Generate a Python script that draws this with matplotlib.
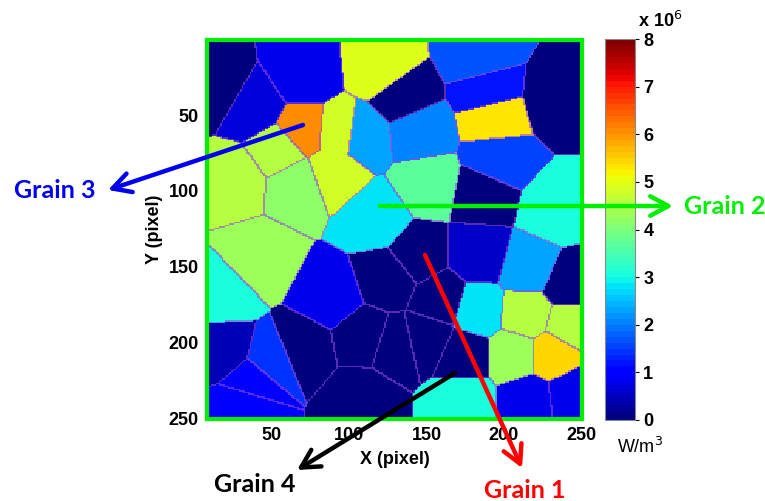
import numpy as np
import matplotlib
matplotlib.use("Agg")
import matplotlib.pyplot as plt
import matplotlib.patches as mpatches

plt.rcParams["font.family"] = ["Liberation Sans", "DejaVu Sans"]

# ---- grain data (seed location in pixels, heat value in 1e6 W/m^3) ----
# seeds that share one value exactly belong to the same grain
seed_x = [16, 70, 39, 70, 122, 135, 184, 190, 194, 235,
          197, 233, 145, 109, 151, 118, 94, 26, 55, 67,
          42, 18, 88, 70, 50, 20, 38, 33, 109, 125,
          145, 187, 184, 216.6, 242.7, 183, 215, 243, 207, 231.6,
          174, 216.6, 244, 160, 110, 130, 151, 174, 90]
seed_y = [32, 25, 45, 60, 20, 38, 12, 35, 51, 40,
          80, 113, 61, 64, 96, 118, 62, 93, 73, 96,
          146, 169, 170, 204, 212, 205, 226, 242, 237, 158,
          142.5, 103, 142.5, 151, 162, 179, 182, 189, 208.4, 208.4,
          238, 238, 235, 172, 197, 203, 198.5, 208.4, 88]
grain_val = [0.10, 0.85, 0.7, 6.1, 4.9, 0.09, 1.7, 1.2, 5.3, 0.08,
             1.6, 3.0, 2.0, 2.3, 3.7, 2.8, 4.75, 4.55, 4.6, 4.2,
             4.3, 3.0, 0.8, 0.07, 1.4, 0.4, 0.9, 0.95, 0.11, 0.06,
             0.05, 0.12, 0.6, 2.3, 0.10, 2.85, 4.55, 4.5, 4.25, 5.4,
             3.0, 0.85, 0.8, 0.09, 0.08, 0.115, 0.065, 0.055, 4.75]

x_ticks = [50, 100, 150, 200, 250]
y_ticks = [50, 100, 150, 200, 250]
cb_ticks = [0, 1, 2, 3, 4, 5, 6, 7, 8]

N = 250
xx, yy = np.meshgrid(np.arange(1, N + 1), np.arange(1, N + 1))
sx = np.array(seed_x, float)[:, None, None]
sy = np.array(seed_y, float)[:, None, None]
lab = np.argmin((xx - sx) ** 2 + (yy - sy) ** 2, axis=0)
field = np.array(grain_val)[lab]

edge = np.zeros(lab.shape, bool)
edge[:, :-1] |= field[:, :-1] != field[:, 1:]
edge[:-1, :] |= field[:-1, :] != field[1:, :]
overlay = np.zeros((N, N, 4))
overlay[edge] = (0.58, 0.28, 0.88, 0.6)

fig = plt.figure(figsize=(7.65, 5.01), dpi=100)
ax = fig.add_axes([207 / 765, 1 - 419 / 501, 375 / 765, 379 / 501])
cmap = plt.get_cmap("jet", 64)
ext = (0.5, 250.5, 250.5, 0.5)
im = ax.imshow(field, cmap=cmap, vmin=0, vmax=8, extent=ext,
               interpolation="nearest", aspect="auto")
ax.imshow(overlay, extent=ext, interpolation="nearest", aspect="auto")
ax.set_xlim(8, 250.5)
ax.set_ylim(250.5, 0.5)
ax.set_xticks(x_ticks)
ax.set_yticks(y_ticks)
for s in ax.spines.values():
    s.set_color("#00EE00")
    s.set_linewidth(3)
ax.tick_params(length=0, pad=6, labelsize=13)
for lbl in ax.get_xticklabels() + ax.get_yticklabels():
    lbl.set_fontweight("bold")
ax.set_xlabel("X (pixel)", fontsize=13, fontweight="bold", labelpad=5)
ax.set_ylabel("Y (pixel)", fontsize=13, fontweight="bold", labelpad=4)

cax = fig.add_axes([605 / 765, 1 - 420 / 501, 30 / 765, 381 / 501])
cb = fig.colorbar(im, cax=cax, ticks=cb_ticks)
cb.outline.set_edgecolor("#888888")
cb.outline.set_linewidth(0.8)
cax.tick_params(length=3, width=0.8, labelsize=13, pad=3)
for lbl in cax.get_yticklabels():
    lbl.set_fontweight("bold")
fig.text(638 / 765, 1 - 27 / 501, r"x 10$^{6}$", fontsize=13, fontweight="bold",
         ha="left", va="baseline")
fig.text(617 / 765, 1 - 447 / 501, r"W/m$^{3}$", fontsize=13,
         ha="left", va="center")

fam = ["Lato", "DejaVu Sans"]
arrows = [
    ("Grain 3", "#0000EE", (303, 125), (108, 190), (55, 190), "center"),
    ("Grain 2", "#00EE00", (380, 206), (673, 206), (684, 207), "left"),
    ("Grain 1", "#FF0000", (425, 255), (522, 468), (525, 490), "center"),
    ("Grain 4", "#000000", (455, 373), (297, 470), (255, 485), "center"),
]
for name, col, p0, p1, pt, ha in arrows:
    fig.patches.append(mpatches.FancyArrowPatch(
        (p0[0] / 765, 1 - p0[1] / 501), (p1[0] / 765, 1 - p1[1] / 501),
        transform=fig.transFigure, arrowstyle="->,head_length=13,head_width=7",
        color=col, lw=3.2, mutation_scale=1, shrinkA=0, shrinkB=0))
    fig.text(pt[0] / 765, 1 - pt[1] / 501, name, color=col, fontsize=18,
             fontweight="bold", family=fam, ha=ha, va="center")

fig.savefig("out.png", dpi=100)
